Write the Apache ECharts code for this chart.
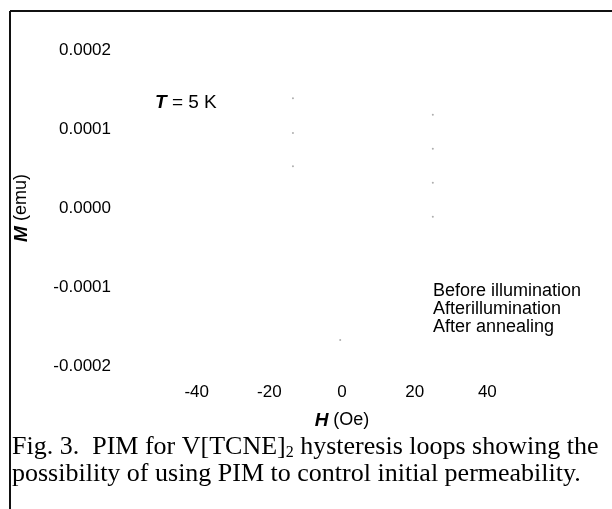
<!DOCTYPE html>
<html>
<head>
<meta charset="utf-8">
<script src="https://cdn.jsdelivr.net/npm/echarts@6/dist/echarts.min.js"></script>
<style>
	html, body { margin: 0; padding: 0; background: #fff; }
	#chart { width: 612px; height: 509px; }
</style>
</head>
<body>
<div id="chart"></div>
<script>
	// ticks
	var hTicks = [-40, -20, 0, 20, 40];
	var mTicks = [-0.0002, -0.0001, 0, 0.0001, 0.0002];
	var seriesNames = ['Before illumination', 'Afterillumination', 'After annealing'];
	// only faint traces of the loops survive in the scan: [H (Oe), M (emu)]
	var beforeIllum = [[-13.5, 0.000139], [-13.5, 0.000095], [-13.5, 0.000053]];
	var afterIllum = [[25, 0.000118], [25, 0.000075], [25, 0.000032], [25, -0.000011]];
	var afterAnneal = [[-0.5, -0.000167]];
	var seriesData = [beforeIllum, afterIllum, afterAnneal];

	var chart = echarts.init(document.getElementById('chart'));
	var font = '"Liberation Sans", Arial, sans-serif';
	var serif = '"Liberation Serif", "Times New Roman", serif';

	var option = {
		animation: false,
		backgroundColor: '#fff',
		grid: { left: 124, right: 52, top: 50, bottom: 143 },
		legend: {
			data: seriesNames,
			orient: 'vertical',
			left: 428,
			top: 277,
			icon: 'none',
			itemWidth: 0,
			itemHeight: 14,
			itemGap: 0,
			textStyle: { fontFamily: font, fontSize: 18, lineHeight: 18, color: '#000', padding: [0, 0, 0, -5] }
		},
		xAxis: {
			type: 'value',
			min: -60, max: 60, interval: 20,
			axisLine: { show: false }, axisTick: { show: false }, splitLine: { show: false },
			axisLabel: {
				showMinLabel: false, showMaxLabel: false, margin: 18,
				fontFamily: font, fontSize: 17, color: '#000'
			},
			name: '{b|H} (Oe)',
			nameLocation: 'middle',
			nameGap: 45,
			nameTextStyle: {
				fontFamily: font, fontSize: 18, color: '#000',
				rich: { b: { fontFamily: font, fontSize: 19, fontWeight: 'bold', fontStyle: 'italic', color: '#000' } }
			}
		},
		yAxis: {
			type: 'value',
			min: -0.0002, max: 0.0002, interval: 0.0001,
			axisLine: { show: false }, axisTick: { show: false }, splitLine: { show: false },
			axisLabel: {
				margin: 13, fontFamily: font, fontSize: 17, color: '#000',
				formatter: function (v) { return v.toFixed(4); }
			},
			name: '{b|M} (emu)',
			nameLocation: 'middle',
			nameRotate: 90,
			nameGap: 93,
			nameTextStyle: {
				fontFamily: font, fontSize: 18, color: '#000',
				rich: { b: { fontFamily: font, fontSize: 19, fontWeight: 'bold', fontStyle: 'italic', color: '#000' } }
			}
		},
		series: seriesNames.map(function (name, i) {
			return {
				name: name,
				type: 'scatter',
				symbolSize: 2,
				itemStyle: { color: '#9a9a9a' },
				data: seriesData[i]
			};
		}),
		graphic: [
			{ type: 'line', shape: { x1: 10, y1: 11, x2: 612, y2: 11 }, style: { stroke: '#111', lineWidth: 2 } },
			{ type: 'line', shape: { x1: 10, y1: 11, x2: 10, y2: 509 }, style: { stroke: '#111', lineWidth: 2 } },
			{
				type: 'text', left: 155, top: 93,
				style: {
					text: '{b|T} = 5 K', fontFamily: font, fontSize: 19, fill: '#000',
					rich: { b: { fontFamily: font, fontSize: 19, fontWeight: 'bold', fontStyle: 'italic', fill: '#000' } }
				}
			},
			{
				type: 'text', left: 12, top: 434,
				style: {
					text: 'Fig. 3.  PIM for V[TCNE]{s|2} hysteresis loops showing the\npossibility of using PIM to control initial permeability.',
					fontFamily: serif, fontSize: 26, lineHeight: 27, fill: '#000',
					rich: { s: { fontFamily: serif, fontSize: 16, verticalAlign: 'bottom', padding: [10, 0, 0, 0], fill: '#000' } }
				}
			}
		]
	};
	chart.setOption(option);
</script>
</body>
</html>
